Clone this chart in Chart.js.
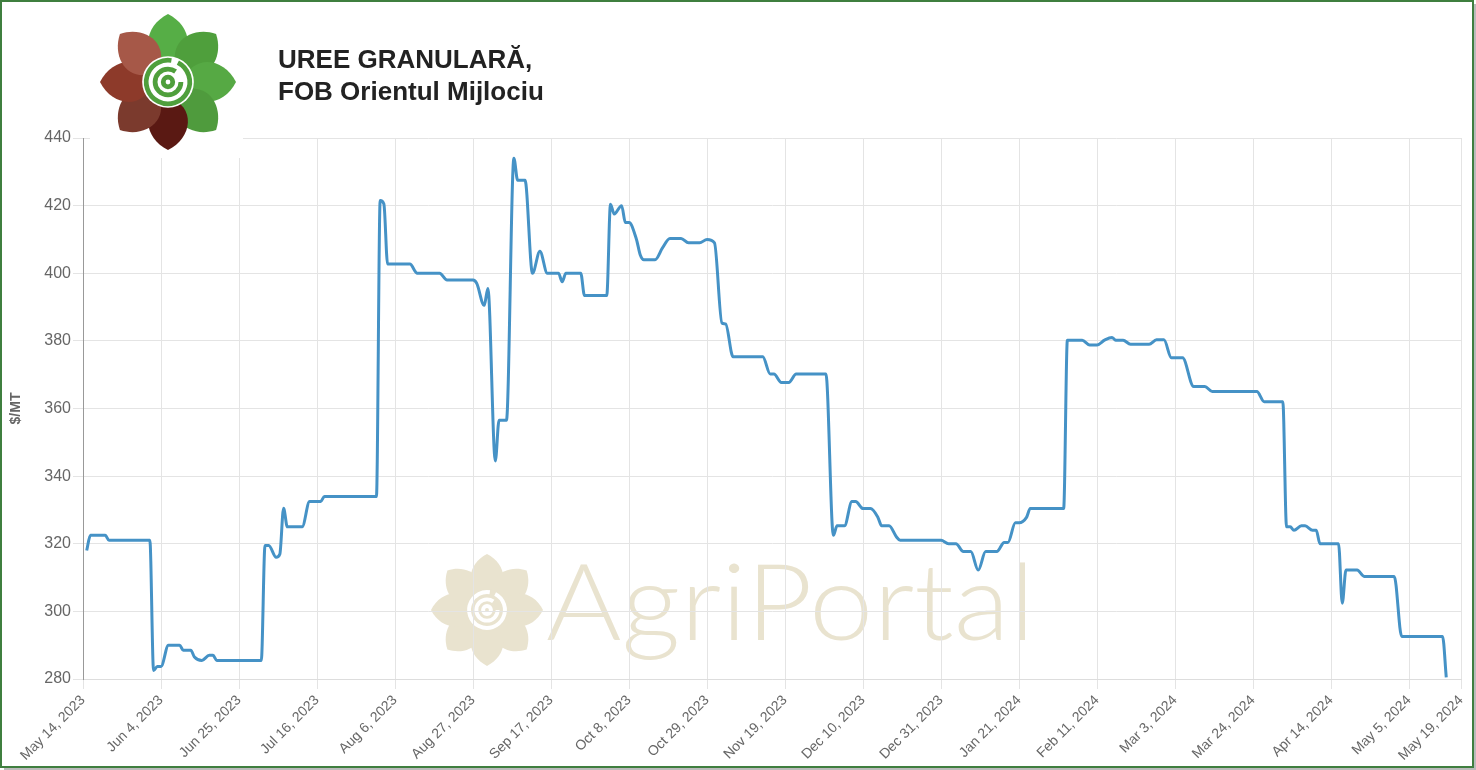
<!DOCTYPE html>
<html>
<head>
<meta charset="utf-8">
<script src="https://cdn.jsdelivr.net/npm/chart.js@4.4.0/dist/chart.umd.min.js"></script>
<style>
  body { margin: 0; background: #fff; }
  #wrap { width: 1476px; height: 770px; position: relative; }
</style>
</head>
<body>
<div id="wrap"><canvas id="myChart" width="1476" height="770"></canvas></div>
<script>
// days counted from May 14, 2023
const days = [1, 2, 6, 7, 18, 19, 20, 21, 23, 26, 27, 29, 30, 32, 34, 35, 36, 48, 49, 50,
  52, 53, 54, 55, 59, 61, 64, 65, 79, 80, 81, 82, 88, 90, 96, 98, 105, 106, 108, 109,
  111, 112, 114, 116, 117, 119, 121, 123, 125, 128, 129, 130, 134, 135, 141, 142, 143, 145, 146, 147,
  149, 150, 151, 154, 156, 158, 161, 163, 166, 168, 170, 172, 173, 175, 183, 185, 186, 188, 190, 192,
  200, 202, 203, 205, 207, 208, 210, 212, 214, 215, 217, 219, 220, 231, 233, 235, 237, 239, 241, 243,
  246, 248, 249, 251, 252, 254, 255, 264, 265, 269, 271, 273, 275, 277, 278, 280, 282, 287, 289, 291,
  293, 296, 299, 302, 304, 316, 318, 323, 324, 325, 326, 328, 329, 331, 332, 333, 338, 339, 340, 343,
  345, 353, 355, 366, 367];
const prices = [318, 322.5, 322.5, 321, 321, 282.5, 283.7, 283.7, 290, 290, 288.5, 288.5, 286.5, 285.5, 287, 287, 285.5, 285.5, 319.5, 319.5,
  316, 317, 330.5, 325, 325, 332.5, 332.5, 334, 334, 421.5, 420.5, 402.7, 402.7, 400, 400, 398, 398, 397, 390.5, 395.5,
  344.5, 356.5, 356.5, 434, 427.5, 427.5, 400, 406.5, 400, 400, 397.5, 400, 400, 393.4, 393.4, 420.4, 417.5, 420, 415, 415,
  410, 405.5, 404, 404, 407.5, 410.3, 410.3, 409, 409, 410, 409, 385.3, 385, 375.3, 375.3, 370.2, 370.2, 367.7, 367.7, 370.2,
  370.2, 322.5, 325.3, 325.3, 332.5, 332.5, 330.4, 330.4, 327.8, 325.3, 325.3, 322, 321, 321, 320, 320, 317.7, 317.7, 312.2, 317.7,
  317.7, 320.4, 320.4, 326.2, 326.2, 327.8, 330.4, 330.4, 380.2, 380.2, 378.8, 378.8, 380.2, 381, 380.2, 380.2, 379, 379, 380.3, 380.3,
  375, 375, 366.5, 366.5, 365, 365, 362, 362, 325, 325, 324, 325.3, 325.3, 324, 324, 320, 320, 302.4, 312.2, 312.2,
  310.3, 310.3, 292.6, 292.6, 280.5];

const tickLabels = ['May 14, 2023', 'Jun 4, 2023', 'Jun 25, 2023', 'Jul 16, 2023', 'Aug 6, 2023',
  'Aug 27, 2023', 'Sep 17, 2023', 'Oct 8, 2023', 'Oct 29, 2023', 'Nov 19, 2023', 'Dec 10, 2023',
  'Dec 31, 2023', 'Jan 21, 2024', 'Feb 11, 2024', 'Mar 3, 2024', 'Mar 24, 2024', 'Apr 14, 2024',
  'May 5, 2024', 'May 19, 2024'];
const titleLines = ['UREE GRANULARĂ,', 'FOB Orientul Mijlociu'];

const startTime = Date.parse(tickLabels[0]);
const tickDays = tickLabels.map(l => Math.round((Date.parse(l) - startTime) / 86400000));

const logoColors = ['#56ae46', '#4f9f3c', '#56a944', '#4f9b3d', '#5a1913', '#7b3a2d', '#8d3a2a', '#a65848'];
const markColor = '#e9e3cf';

function drawFlower(ctx, cx, cy, r, colors, ring, inner) {
    ctx.save();
    ctx.translate(cx, cy);
    for (let i = 0; i < 8; i++) {
        ctx.save();
        ctx.rotate(-Math.PI / 2 + i * Math.PI / 4);
        ctx.beginPath();
        ctx.moveTo(r * 0.22, 0);
        ctx.bezierCurveTo(r * 0.36, -r * 0.42, r * 0.82, -r * 0.36, r, 0);
        ctx.bezierCurveTo(r * 0.82, r * 0.36, r * 0.36, r * 0.42, r * 0.22, 0);
        ctx.fillStyle = colors[i % colors.length];
        ctx.fill();
        ctx.restore();
    }
    ctx.beginPath();
    ctx.arc(0, 0, r * 0.38, 0, Math.PI * 2);
    ctx.fillStyle = inner;
    ctx.fill();
    ctx.strokeStyle = ring;
    ctx.lineWidth = r * 0.07;
    ctx.beginPath();
    ctx.arc(0, 0, r * 0.32, -Math.PI * 0.35, Math.PI * 1.55);
    ctx.stroke();
    ctx.beginPath();
    ctx.arc(0, 0, r * 0.19, 0, Math.PI * 1.7);
    ctx.stroke();
    ctx.beginPath();
    ctx.arc(0, 0, r * 0.07, 0, Math.PI * 2);
    ctx.stroke();
    ctx.restore();
}

const decor = {
    id: 'decor',
    beforeDraw(chart) {
        const ctx = chart.ctx;
        ctx.save();
        drawFlower(ctx, 487, 610, 56, [markColor], '#ffffff', markColor);
        ctx.font = '300 106px Lato';
        const w = ctx.measureText('AgriPortal').width;
        ctx.translate(546, 640);
        ctx.scale(489 / w, 1);
        ctx.fillStyle = markColor;
        ctx.textBaseline = 'alphabetic';
        ctx.fillText('AgriPortal', 0, 0);
        ctx.restore();
    },
    afterDraw(chart) {
        const ctx = chart.ctx;
        ctx.save();
        ctx.fillStyle = '#ffffff';
        ctx.fillRect(90, 3, 153, 155);
        drawFlower(ctx, 168, 82, 68, logoColors, '#4f9f3c', '#ffffff');
        ctx.fillStyle = '#222';
        ctx.font = 'bold 26px "Liberation Sans", Arial';
        ctx.textBaseline = 'middle';
        ctx.fillText(titleLines[0], 278, 61);
        ctx.fillText(titleLines[1], 278, 93);
        // frame
        ctx.strokeStyle = '#bbbbbb';
        ctx.lineWidth = 2;
        ctx.beginPath();
        ctx.moveTo(1475, 4); ctx.lineTo(1475, 769); ctx.lineTo(4, 769);
        ctx.stroke();
        ctx.strokeStyle = '#3f7f3f';
        ctx.lineWidth = 2;
        ctx.strokeRect(1, 1, 1472, 766);
        ctx.restore();
    }
};

new Chart(document.getElementById('myChart'), {
    type: 'line',
    data: {
        datasets: [{
            data: days.map((d, i) => ({ x: d, y: prices[i] })),
            borderColor: '#4592c6',
            borderWidth: 3,
            pointRadius: 0,
            fill: false,
            cubicInterpolationMode: 'monotone'
        }]
    },
    options: {
        responsive: false,
        animation: false,
        devicePixelRatio: 1,
        layout: { padding: { top: 138, right: 14, left: 0, bottom: 0 } },
        plugins: { legend: { display: false }, tooltip: { enabled: false } },
        scales: {
            x: {
                type: 'linear',
                min: 0,
                max: 371,
                afterBuildTicks: function (scale) {
                    scale.ticks = tickDays.map(v => ({ value: v }));
                },
                afterFit: function (scale) { scale.height = 91; },
                ticks: {
                    autoSkip: false,
                    minRotation: 45,
                    maxRotation: 45,
                    color: '#666',
                    font: { size: 14, family: '"Liberation Sans", Arial' },
                    callback: (v, i) => tickLabels[i]
                },
                grid: { color: '#e4e4e4', tickLength: 10 },
                border: { color: '#dddddd' }
            },
            y: {
                min: 280,
                max: 440,
                afterFit: function (scale) { scale.width = 83; },
                ticks: {
                    stepSize: 20,
                    color: '#666',
                    padding: 2,
                    font: { size: 16, family: '"Liberation Sans", Arial' }
                },
                title: {
                    display: true,
                    text: '$/MT',
                    color: '#666',
                    padding: { top: 8, bottom: 0 },
                    font: { size: 14, weight: 'bold', family: '"Liberation Sans", Arial' }
                },
                grid: { color: '#e4e4e4', tickLength: 10 },
                border: { color: '#999999' }
            }
        }
    },
    plugins: [decor]
});
</script>
</body>
</html>
